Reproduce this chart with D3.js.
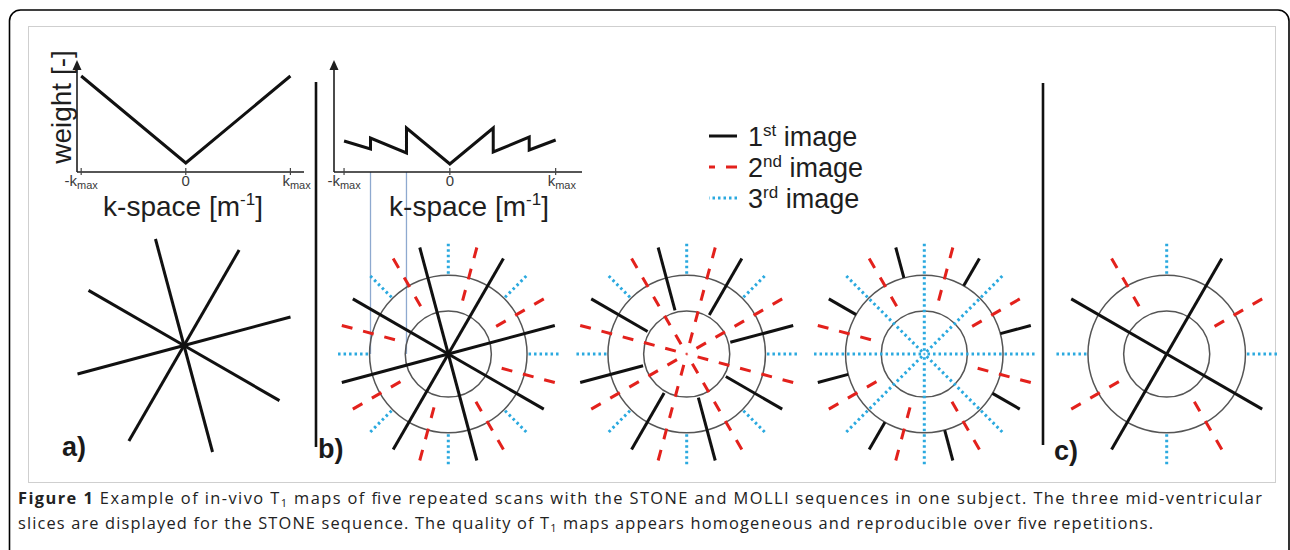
<!DOCTYPE html>
<html><head><meta charset="utf-8">
<script src="https://cdn.jsdelivr.net/npm/d3@7"></script>
<style>body{margin:0;background:#fff} svg{display:block}</style>
</head><body><svg id="c" width="1290" height="550"></svg>
<script>
// ---------------- data ----------------
const kTicks = [-1, 0, 1];
const kTickLabels = ["-k", "0", "k"];
const kTickSubs = ["max", "", "max"];
const profileA_k = [-1, 0, 1];
const profileA_w = [96, 9, 96];
const profileB_k = [-1, -0.75, -0.75, -0.41, -0.41, 0, 0.41, 0.41, 0.75, 0.75, 1];
const profileB_w = [31, 23, 34, 19, 44, 8, 44, 20, 35, 22, 32];
const ringK = [0.41, 0.75];
const connectorK = [-0.75, -0.41];
const imageNums = ["1", "2", "3"];
const imageSups = ["st", "nd", "rd"];
const imageColors = ["#111111", "#e3211c", "#2aa9df"];
const imageDash = [null, "11,11", "2.5,3"];
const imageWidth = [3, 3, 3];
const starAngles = [15, 60, 105, 150];
const radialAngles = [[15, 60, 105, 150], [30, 75, 120, 165], [0, 45, 90, 135]];
const radialStart = [[0, 0.45, 0.75], [0.43, 0, 0.75], [0.75, 0.45, 0]];
const cAngles = [[60, 150], [30, 120], [0, 90]];
const cStart = [0, 0.45, 0.75];
const spokeEnd = 1.05;
const panelLabels = ["a)", "b)", "c)"];
const captionBold = "Figure 1";
const caption1 = [" Example of in-vivo T", "1", " maps of five repeated scans with the STONE and MOLLI sequences in one subject. The three mid-ventricular"];
const caption2 = ["slices are displayed for the STONE sequence. The quality of T", "1", " maps appears homogeneous and reproducible over five repetitions."];

// ---------------- drawing ----------------
const svg = d3.select("#c");
const FONT = "'Liberation Sans', Arial, sans-serif";
const INK = "#1e1e1e";

svg.append("rect").attr("width", 1290).attr("height", 550).attr("fill", "#fff");
svg.append("rect").attr("x", 9.5).attr("y", 10).attr("width", 1279.5).attr("height", 620)
  .attr("rx", 11).attr("fill", "none").attr("stroke", "#000").attr("stroke-width", 1.6);
svg.append("rect").attr("x", 28.5).attr("y", 26.5).attr("width", 1247).attr("height", 456)
  .attr("fill", "#fff").attr("stroke", "#cfcfcf").attr("stroke-width", 1);

const yW = d3.scaleLinear().domain([0, 112]).range([172, 60]);
const xA = d3.scaleLinear().domain([-1.04, 1.13]).range([77, 304]);
const xB = d3.scaleLinear().domain([-1.095, 1.249]).range([334, 582]);
const rS = d3.scaleLinear().domain([0, 1]).range([0, 105]);

function weightChart(x, ks, ws, withYLabel, labelCx) {
  const g = svg.append("g");
  const x0 = x.range()[0];
  g.append("line").attr("x1", x0).attr("x2", x.range()[1]).attr("y1", yW(0)).attr("y2", yW(0))
    .attr("stroke", INK).attr("stroke-width", 1.6);
  g.append("line").attr("x1", x0).attr("x2", x0).attr("y1", yW(0)).attr("y2", yW(106))
    .attr("stroke", INK).attr("stroke-width", 1.6);
  g.append("path").attr("d", `M${x0},${yW(112)} L${x0 - 4.5},${yW(102)} L${x0 + 4.5},${yW(102)} Z`).attr("fill", INK);
  g.selectAll("line.tk").data(kTicks).join("line").attr("class", "tk")
    .attr("x1", d => x(d)).attr("x2", d => x(d)).attr("y1", yW(0) - 4).attr("y2", yW(0) + 3)
    .attr("stroke", "#444").attr("stroke-width", 1.2);
  const tl = g.selectAll("text.tl").data(kTicks).join("text").attr("class", "tl")
    .attr("x", (d, i) => i === 2 ? x(d) - 8 : x(d))
    .attr("y", yW(0) + 14)
    .attr("text-anchor", (d, i) => i === 2 ? "start" : "middle")
    .attr("font-family", FONT).attr("font-size", 15).attr("fill", "#3a3a3a");
  tl.append("tspan").text((d, i) => kTickLabels[i]);
  tl.filter((d, i) => kTickSubs[i]).append("tspan").attr("font-size", 11).attr("dy", 3)
    .text(d => kTickSubs[kTicks.indexOf(d)]);
  const line = d3.line().x(d => x(d[0])).y(d => yW(d[1]));
  g.append("path").attr("d", line(ks.map((k, i) => [k, ws[i]])))
    .attr("fill", "none").attr("stroke", "#111").attr("stroke-width", 3).attr("stroke-linejoin", "miter");
  const xl = g.append("text").attr("x", labelCx).attr("y", 216).attr("text-anchor", "middle")
    .attr("font-family", FONT).attr("font-size", 28).attr("fill", INK);
  xl.append("tspan").text("k-space [m");
  xl.append("tspan").attr("font-size", 17).attr("dy", -11).text("-1");
  xl.append("tspan").attr("dy", 11).text("]");
  if (withYLabel) {
    g.append("text").attr("transform", `translate(71,107) rotate(-90)`).attr("text-anchor", "middle")
      .attr("font-family", FONT).attr("font-size", 28).attr("fill", INK).text("weight [-]");
  }
  return g;
}

svg.selectAll("line.conn").data(connectorK).join("line").attr("class", "conn")
  .attr("x1", d => xB(d)).attr("x2", d => xB(d)).attr("y1", yW(0)).attr("y2", 354)
  .attr("stroke", "#8ea9cf").attr("stroke-width", 1.3);

weightChart(xA, profileA_k, profileA_w, true, 183);
weightChart(xB, profileB_k, profileB_w, false, 469);

function ray(g, cx, cy, angDeg, r0, r1, color, dash, w) {
  const a = angDeg * Math.PI / 180;
  g.append("line")
    .attr("x1", cx + rS(r1) * Math.cos(a)).attr("y1", cy - rS(r1) * Math.sin(a))
    .attr("x2", cx + rS(r0) * Math.cos(a)).attr("y2", cy - rS(r0) * Math.sin(a))
    .attr("stroke", color).attr("stroke-width", w).attr("stroke-dasharray", dash);
}
function spokes(g, cx, cy, angles, r0, img) {
  angles.forEach(t => [t, t + 180].forEach(a =>
    ray(g, cx, cy, a, r0, spokeEnd, imageColors[img], imageDash[img], imageWidth[img])));
}
function rings(g, cx, cy) {
  g.selectAll("circle").data(ringK).join("circle").attr("cx", cx).attr("cy", cy)
    .attr("r", d => rS(d)).attr("fill", "none").attr("stroke", "#555").attr("stroke-width", 1.5);
}

const ga = svg.append("g");
spokes(ga, 184, 345.5, starAngles, 0, 0);

const bCx = [448.3, 686.7, 924.3];
bCx.forEach((cx, di) => {
  const g = svg.append("g");
  rings(g, cx, 354);
  const order = [0, 1, 2].sort((p, q) => radialStart[di][q] - radialStart[di][p]);
  order.forEach(img => spokes(g, cx, 354, radialAngles[img], radialStart[di][img], img));
});

const gc = svg.append("g");
rings(gc, 1166.7, 354);
[2, 1, 0].forEach(img => spokes(gc, 1166.7, 354, cAngles[img], cStart[img], img));

svg.append("line").attr("x1", 316).attr("x2", 316).attr("y1", 82).attr("y2", 447)
  .attr("stroke", "#111").attr("stroke-width", 2.6);
svg.append("line").attr("x1", 1043).attr("x2", 1043).attr("y1", 83).attr("y2", 445)
  .attr("stroke", "#111").attr("stroke-width", 2.6);

const labelPos = [[62, 456], [318, 458], [1054, 460]];
svg.selectAll("text.pl").data(panelLabels).join("text").attr("class", "pl")
  .attr("x", (d, i) => labelPos[i][0]).attr("y", (d, i) => labelPos[i][1])
  .attr("font-family", FONT).attr("font-weight", "bold").attr("font-size", 27).attr("fill", "#1a1a1a")
  .text(d => d);

const lg = svg.append("g");
const legY = [136, 167, 198];
imageNums.forEach((n, i) => {
  lg.append("line").attr("x1", 737).attr("x2", 709).attr("y1", legY[i]).attr("y2", legY[i])
    .attr("stroke", imageColors[i]).attr("stroke-width", imageWidth[i]).attr("stroke-dasharray", imageDash[i]);
  const t = lg.append("text").attr("x", 748).attr("y", legY[i] + 10)
    .attr("font-family", FONT).attr("font-size", 27).attr("fill", INK);
  t.append("tspan").text(n);
  t.append("tspan").attr("font-size", 17).attr("dy", -10).text(imageSups[i]);
  t.append("tspan").attr("dy", 10).text(" image");
});

const CF = "'Open Sans', 'Noto Sans', sans-serif";
function captionLine(y, parts, bold, width) {
  const t = svg.append("text").attr("x", 18).attr("y", y).attr("font-family", CF).attr("font-size", 16.4)
    .attr("fill", "#222").attr("textLength", width).attr("lengthAdjust", "spacing");
  if (bold) t.append("tspan").attr("font-weight", "bold").text(bold);
  t.append("tspan").text(parts[0]);
  t.append("tspan").attr("font-size", 11).attr("dy", 3).text(parts[1]);
  t.append("tspan").attr("dy", -3).text(parts[2]);
  return t;
}
captionLine(504, caption1, captionBold, 1244);
captionLine(529, caption2, null, 1135);
</script></body></html>
